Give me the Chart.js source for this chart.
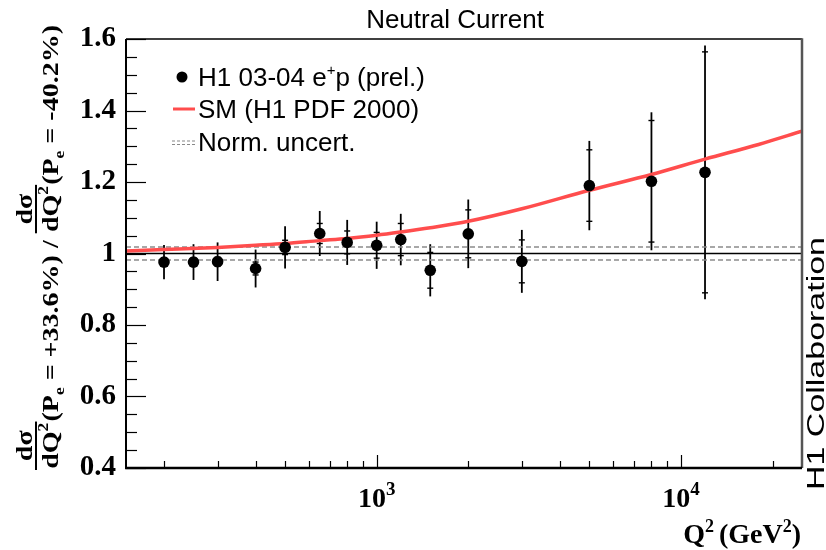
<!DOCTYPE html>
<html>
<head>
<meta charset="utf-8">
<script src="https://cdn.jsdelivr.net/npm/chart.js@4.4.1/dist/chart.umd.min.js"></script>
<style>
  html, body { margin: 0; padding: 0; background: #fff; }
</style>
</head>
<body>
<canvas id="chart" width="826" height="550"></canvas>
<script>
// H1 03-04 e+p (prel.) : ratio of NC cross sections for the two polarisations
const q2 = [200, 250, 300, 400, 500, 650, 800, 1000, 1200, 1500, 2000, 3000, 5000, 8000, 12000];
const ratio = [0.976, 0.976, 0.977, 0.958, 1.017, 1.056, 1.031, 1.023, 1.039, 0.953, 1.055, 0.978, 1.190, 1.202, 1.227];
const statErr = [0.012, 0.012, 0.013, 0.018, 0.020, 0.028, 0.032, 0.036, 0.045, 0.050, 0.067, 0.060, 0.100, 0.170, 0.337];
const totErr = [0.048, 0.050, 0.054, 0.053, 0.059, 0.063, 0.063, 0.066, 0.072, 0.073, 0.096, 0.088, 0.125, 0.193, 0.355];

// SM (H1 PDF 2000) expectation
const smQ2 = [150, 200, 300, 400, 500, 650, 800, 1000, 1200, 1500, 2000, 3000, 5000, 8000, 12000, 18000, 25000];
const smRatio = [1.007, 1.011, 1.017, 1.023, 1.028, 1.036, 1.042, 1.051, 1.060, 1.072, 1.090, 1.125, 1.177, 1.221, 1.264, 1.305, 1.342];

// normalisation uncertainty band and unity line
const normBand = [0.982, 1.018];
const unity = 1;

// axis ranges
const xRange = [150, 25000];
const yRange = [0.4, 1.6];
const xLabelDecades = [1000, 10000];

const SERIF = '"Liberation Serif", "DejaVu Serif", serif';
const SANS = '"Liberation Sans", Arial, sans-serif';

function hline(v) {
  return [{ x: xRange[0], y: v }, { x: xRange[1], y: v }];
}

// draw "base" followed by a superscript, returns end x
function supText(ctx, base, sup, x, y, font, supFont, rise) {
  ctx.font = font;
  ctx.fillText(base, x, y);
  x += ctx.measureText(base).width;
  ctx.font = supFont;
  ctx.fillText(sup, x, y - rise);
  return x + ctx.measureText(sup).width;
}

// pieces of the rotated y title
function yTitlePieces() {
  const big = 'bold 24px ' + SERIF;
  const small = 'bold 15px ' + SERIF;
  return [
    { frac: true },
    { t: '(P', f: big, dy: 0 },
    { t: 'e', f: small, dy: 6 },
    { t: ' = +33.6%) / ', f: big, dy: 0 },
    { frac: true },
    { t: '(P', f: big, dy: 0 },
    { t: 'e', f: small, dy: 6 },
    { t: ' = -40.2%)', f: big, dy: 0 }
  ];
}

function drawFrac(ctx, x, draw) {
  const big = 'bold 24px ' + SERIF;
  const small = 'bold 15px ' + SERIF;
  ctx.font = big;
  const wNum = ctx.measureText('d\u03c3').width;
  const wQ = ctx.measureText('dQ').width;
  ctx.font = small;
  const w2 = ctx.measureText('2').width;
  const w = Math.max(wNum, wQ + w2) + 2;
  if (draw) {
    ctx.font = big;
    ctx.fillText('d\u03c3', x + (w - wNum) / 2, 30);
    ctx.fillRect(x, 33, w, 2);
    const dx = x + (w - wQ - w2) / 2;
    ctx.fillText('dQ', dx, 56);
    ctx.font = small;
    ctx.fillText('2', dx + wQ, 46);
  }
  return x + w;
}

const decor = {
  id: 'decor',
  beforeDatasetsDraw(chart) {
    const { ctx, scales: { x, y } } = chart;
    ctx.save();
    ctx.strokeStyle = '#000';
    q2.forEach((q, i) => {
      const px = x.getPixelForValue(q);
      ctx.lineWidth = 1.8;
      ctx.beginPath();
      ctx.moveTo(px, y.getPixelForValue(ratio[i] + totErr[i]));
      ctx.lineTo(px, y.getPixelForValue(ratio[i] - totErr[i]));
      ctx.stroke();
      ctx.lineWidth = 1.4;
      [ratio[i] + statErr[i], ratio[i] - statErr[i]].forEach(v => {
        const py = y.getPixelForValue(v);
        ctx.beginPath();
        ctx.moveTo(px - 3, py);
        ctx.lineTo(px + 3, py);
        ctx.stroke();
      });
    });
    ctx.restore();
  },
  afterDraw(chart) {
    const { ctx, chartArea: a, scales: { x, y } } = chart;
    ctx.save();

    // frame
    ctx.strokeStyle = '#000';
    ctx.lineWidth = 1.5;
    ctx.beginPath(); ctx.moveTo(a.left, a.top); ctx.lineTo(a.right, a.top); ctx.stroke();
    ctx.strokeStyle = '#555';
    ctx.lineWidth = 2.5;
    ctx.beginPath(); ctx.moveTo(a.right, a.top - 0.75); ctx.lineTo(a.right, a.bottom); ctx.stroke();
    ctx.strokeStyle = '#000';
    ctx.lineWidth = 2;
    ctx.beginPath(); ctx.moveTo(a.left, a.top); ctx.lineTo(a.left, a.bottom + 1); ctx.stroke();
    ctx.lineWidth = 2.5;
    ctx.beginPath(); ctx.moveTo(a.left - 1, a.bottom); ctx.lineTo(a.right, a.bottom); ctx.stroke();

    // y ticks (inward)
    ctx.lineWidth = 1.2;
    for (let k = 0; k <= 24; k++) {
      const v = yRange[0] + k * 0.05;
      const py = Math.round(y.getPixelForValue(v)) + 0.5;
      const len = k % 4 === 0 ? 20 : 11;
      ctx.beginPath(); ctx.moveTo(a.left, py); ctx.lineTo(a.left + len, py); ctx.stroke();
    }
    // x ticks (inward, log)
    for (let d = 100; d <= 10000; d *= 10) {
      for (let k = 1; k <= 9; k++) {
        const v = k * d;
        if (v < xRange[0] || v > xRange[1]) continue;
        const px = Math.round(x.getPixelForValue(v)) + 0.5;
        const len = k === 1 ? 13 : 7;
        ctx.beginPath(); ctx.moveTo(px, a.bottom); ctx.lineTo(px, a.bottom - len); ctx.stroke();
      }
    }

    ctx.fillStyle = '#000';
    ctx.textBaseline = 'alphabetic';
    ctx.textAlign = 'left';

    // x tick labels 10^3, 10^4
    const lblFont = 'bold 28px ' + SERIF;
    const supFont = 'bold 19px ' + SERIF;
    xLabelDecades.forEach(v => {
      const e = String(Math.round(Math.log10(v)));
      ctx.font = lblFont;
      const w1 = ctx.measureText('10').width;
      ctx.font = supFont;
      const w2 = ctx.measureText(e).width;
      const px = x.getPixelForValue(v);
      supText(ctx, '10', e, px - (w1 + w2) / 2, 507, lblFont, supFont, 12);
    });

    // x title
    const tFont = 'bold 28px ' + SERIF;
    const tSup = 'bold 18px ' + SERIF;
    ctx.font = tFont;
    const t1 = 'Q', t2 = '(GeV', t3 = ')';
    const gap = 5;
    const wq = ctx.measureText(t1).width, wg = ctx.measureText(t2).width, wc = ctx.measureText(t3).width;
    ctx.font = tSup;
    const ws = ctx.measureText('2').width;
    let tx = 801 - (wq + ws + gap + wg + ws + wc);
    tx = supText(ctx, t1, '2', tx, 543, tFont, tSup, 11);
    tx = supText(ctx, t2, '2', tx + gap, 543, tFont, tSup, 11);
    ctx.font = tFont;
    ctx.fillText(t3, tx, 543);

    // title
    ctx.font = '26px ' + SANS;
    ctx.textAlign = 'center';
    ctx.fillText('Neutral Current', 455, 28);
    ctx.textAlign = 'left';

    // right-side label
    ctx.save();
    ctx.translate(824, 490);
    ctx.rotate(-Math.PI / 2);
    ctx.font = '23px ' + SANS;
    const hw = ctx.measureText('H1 Collaboration').width;
    ctx.scale(253 / hw, 1);
    ctx.fillText('H1 Collaboration', 0, 0);
    ctx.restore();

    // rotated y title
    ctx.save();
    ctx.translate(2, 470);
    ctx.rotate(-Math.PI / 2);
    let total = 0;
    yTitlePieces().forEach(p => {
      if (p.frac) total = drawFrac(ctx, total, false);
      else { ctx.font = p.f; total += ctx.measureText(p.t).width; }
    });
    ctx.scale(445 / total, 1);
    let cx = 0;
    yTitlePieces().forEach(p => {
      if (p.frac) cx = drawFrac(ctx, cx, true);
      else {
        ctx.font = p.f;
        ctx.fillText(p.t, cx, 56 + p.dy);
        cx += ctx.measureText(p.t).width;
      }
    });
    ctx.restore();

    // legend
    const lf = '26px ' + SANS;
    ctx.beginPath();
    ctx.arc(182, 77, 5.5, 0, Math.PI * 2);
    ctx.fill();
    let lx = supText(ctx, 'H1 03-04 e', '+', 198, 86, lf, '15px ' + SANS, 11);
    ctx.font = lf;
    ctx.fillText('p (prel.)', lx, 86);

    ctx.strokeStyle = '#ff4d4d';
    ctx.lineWidth = 3;
    ctx.beginPath(); ctx.moveTo(173, 109); ctx.lineTo(195, 109); ctx.stroke();
    ctx.fillText('SM (H1 PDF 2000)', 198, 118);

    ctx.strokeStyle = '#888';
    ctx.lineWidth = 1.2;
    ctx.setLineDash([3, 2]);
    [141, 144.5].forEach(py => {
      ctx.beginPath(); ctx.moveTo(172, py); ctx.lineTo(195, py); ctx.stroke();
    });
    ctx.setLineDash([]);
    ctx.fillText('Norm. uncert.', 198, 151);

    ctx.restore();
  }
};

new Chart(document.getElementById('chart'), {
  type: 'scatter',
  data: {
    datasets: [
      {
        label: 'H1 03-04 e+p (prel.)',
        data: q2.map((q, i) => ({ x: q, y: ratio[i] })),
        pointRadius: 5.8,
        pointBackgroundColor: '#000',
        pointBorderWidth: 0,
        showLine: false
      },
      {
        label: 'SM (H1 PDF 2000)',
        type: 'line',
        data: smQ2.map((q, i) => ({ x: q, y: smRatio[i] })),
        borderColor: '#ff4d4d',
        borderWidth: 3.5,
        pointRadius: 0,
        cubicInterpolationMode: 'monotone',
        fill: false
      },
      {
        label: 'unity',
        type: 'line',
        data: hline(unity),
        borderColor: '#000',
        borderWidth: 1.5,
        pointRadius: 0
      },
      {
        label: 'Norm. uncert. up',
        type: 'line',
        data: hline(normBand[1]),
        borderColor: '#8c8c8c',
        borderWidth: 1.5,
        borderDash: [5, 3],
        pointRadius: 0
      },
      {
        label: 'Norm. uncert. down',
        type: 'line',
        data: hline(normBand[0]),
        borderColor: '#8c8c8c',
        borderWidth: 1.5,
        borderDash: [5, 3],
        pointRadius: 0
      }
    ]
  },
  options: {
    responsive: false,
    animation: false,
    events: [],
    layout: { padding: { top: 39, right: 24, left: 0, bottom: 0 } },
    plugins: { legend: { display: false }, tooltip: { enabled: false } },
    scales: {
      x: {
        type: 'logarithmic',
        min: xRange[0],
        max: xRange[1],
        grid: { display: false, drawTicks: false },
        border: { display: false },
        ticks: { display: false },
        afterFit(s) { s.height = 82; }
      },
      y: {
        min: yRange[0],
        max: yRange[1],
        grid: { display: false, drawTicks: false },
        border: { display: false },
        ticks: {
          stepSize: 0.2,
          padding: 10,
          color: '#000',
          font: { family: SERIF, weight: 'bold', size: 29 },
          callback: v => String(+v.toFixed(1))
        },
        afterFit(s) { s.width = 126; }
      }
    }
  },
  plugins: [decor]
});
</script>
</body>
</html>
